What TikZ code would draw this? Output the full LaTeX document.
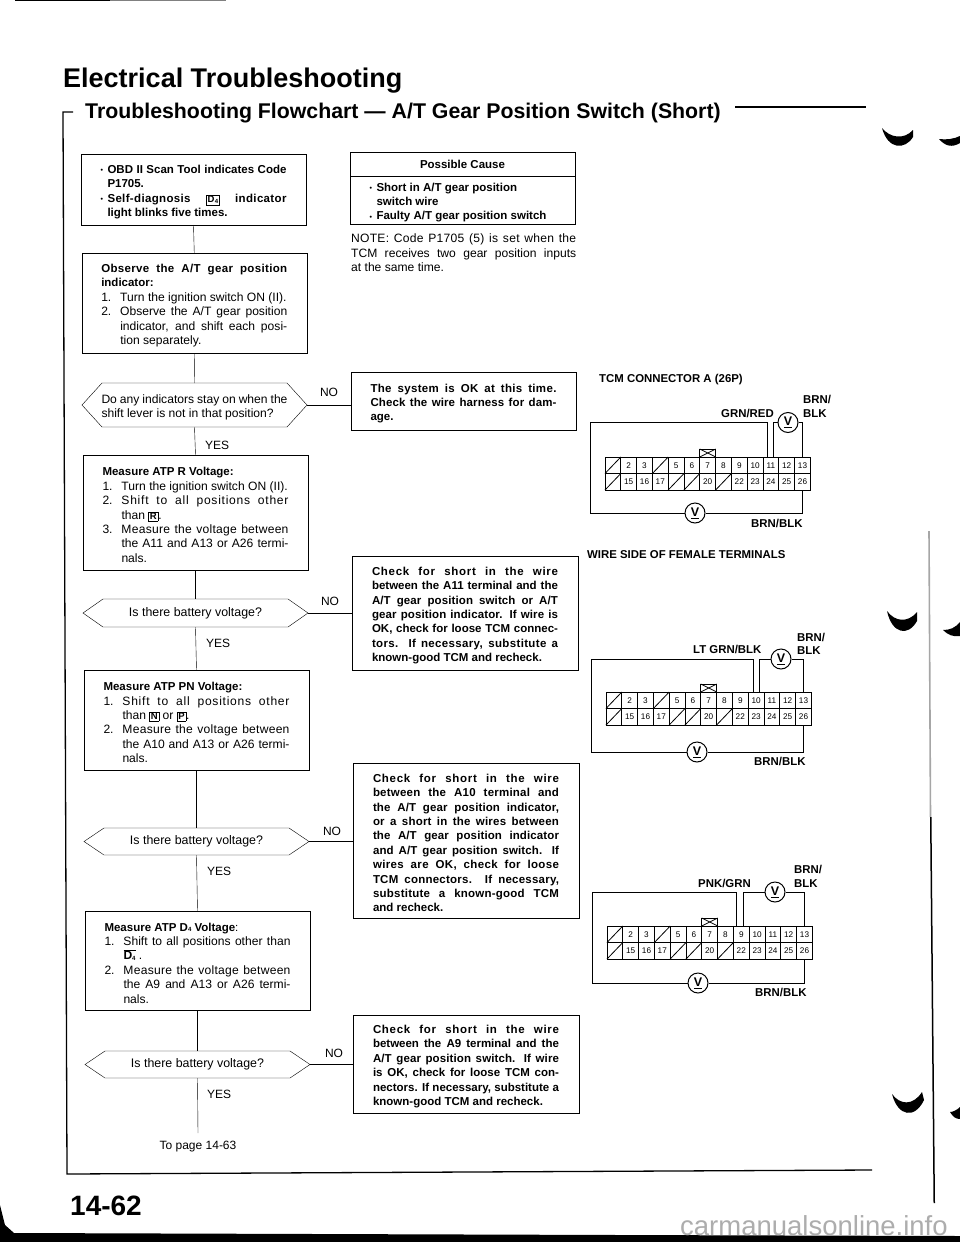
\documentclass[tikz,border=0pt]{standalone}
\usepackage{fontspec}
\setmainfont{Liberation Sans}
\newcommand\fz[1]{\fontsize{#1}{#1}\selectfont}
\newcommand\TB[2][186pt]{\vbox{\kern5pt\hsize=#1 \hrule height 0pt width\hsize \baselineskip=14.4pt \lineskiplimit=-30pt \parindent=0pt #2}}
\newcommand\js{\spaceskip=.28em plus 1fil minus .06em\relax}
\newcommand\JL[1]{\hbox to\hsize{\js #1}}
\newcommand\JS[2]{\hbox to\hsize{\addfontfeature{LetterSpace=#1}\js #2}}
\newcommand\NL[1]{\hbox{#1}}
\newcommand\JI[2]{\hbox to\hsize{\hbox to 19pt{#1\hss}\js #2}}
\newcommand\JIS[3]{\hbox to\hsize{\hbox to 19pt{#2\hss}\addfontfeature{LetterSpace=#1}\js #3}}
\newcommand\NI[2]{\hbox{\hbox to 19pt{#1\hss}#2}}
\newcommand\BU{\hbox to 7pt{\raisebox{.6pt}{\fz{7}•}\hss}}
\newcommand\BI{\hbox to 7pt{\hss}}
\setlength\fboxsep{1.1pt}
\setlength\fboxrule{.4pt}
\newcommand\KY[1]{\raisebox{-.5pt}{\fbox{\fz{9.5}\bfseries #1}}}
\newcommand\DF{\textbf{D}\raisebox{-.8pt}{\fz{6}\bfseries 4}}
\tikzset{
  x=1pt,y=-1pt,
  line width=1pt,
  flowbox/.style={draw,inner sep=0pt,outer sep=0pt,minimum width=225pt,font=\fz{12.1}},
  boldbox/.style={flowbox,font=\fz{11.5}\bfseries},
  hexbox/.style={inner sep=0pt,outer sep=0pt,minimum width=225pt,font=\fz{12.4},align=center},
  flowlabel/.style={inner sep=0pt,font=\fz{12}},
  wirelabel/.style={inner sep=0pt,font=\fz{11.4}\bfseries,anchor=base west},
  cellbox/.style={draw,line width=.8pt,inner sep=0pt,outer sep=0pt,minimum width=15.8pt,minimum height=16.5pt,font=\fz{8.2},text height=6pt,text depth=0pt},
  meter/.style={draw,circle,fill=white,line width=1pt,minimum size=20pt,inner sep=0pt,font=\fz{12.5}\bfseries},
  scanmark/.style={fill=black,draw=none}
}
% hexagon around a text node
\newcommand\HEX[1]{\draw (#1.west) -- ([xshift=20pt]#1.north west) -- ([xshift=-20pt]#1.north east) -- (#1.east) -- ([xshift=-20pt]#1.south east) -- ([xshift=20pt]#1.south west) -- cycle;}
% connector grid: id, left, top
\newcommand\TCM[3]{%
  \foreach \i/\t [count=\c] in {1/{},2/2,3/3,4/{},5/5,6/6,7/7,8/8,9/9,10/10,11/11,12/12,13/13}
    \node[cellbox] (#1\i) at ({#2+(\c-.5)*15.8},{#3+8.25}) {\t};
  \foreach \i/\t [count=\c] in {14/{},15/15,16/16,17/17,18/{},19/{},20/20,21/{},22/22,23/23,24/24,25/25,26/26}
    \node[cellbox] (#1\i) at ({#2+(\c-.5)*15.8},{#3+24.75}) {\t};
  \foreach \s in {1,4,14,18,19,21} \draw[line width=.8pt] (#1\s.south west) -- (#1\s.north east);
  \node[draw,line width=.8pt,inner sep=0pt,outer sep=0pt,minimum width=16pt,minimum height=8pt,anchor=south] (#1x) at (#17.north) {};
  \draw[line width=.8pt] (#1x.south west) -- (#1x.north east) (#1x.north west) -- (#1x.south east);
}
\begin{document}
\begin{tikzpicture}
\useasboundingbox (0,0) rectangle (960,1242);
\fill[white] (0,0) rectangle (960,1242);

% titles
\node[inner sep=0pt,anchor=base west,font=\fz{27}\bfseries] (title) at (63,87) {Electrical Troubleshooting};
\node[inner sep=0pt,anchor=base west,font=\fz{21.3}\bfseries] (subtitle) at (85,118) {Troubleshooting Flowchart — A/T Gear Position Switch (Short)};
\coordinate (rs) at (735,107); \coordinate (re) at (866,107);
\draw[line width=1.1pt] (rs) -- (re);

% frame
\coordinate (fa) at (73,112); \coordinate (fb) at (63,112); \coordinate (fc) at (67,1174); \coordinate (fd) at (872,1170);
\draw[line width=1.3pt] (fa) -- (fb) -- (fc) -- (fd);

% left column
\node[boldbox,minimum height=71pt] (b1) at (193.5,189.5) {\TB{%
  \JL{\BU OBD II Scan Tool indicates Code}
  \NL{\BI P1705.}
  \JS{3}{\BU Self-diagnosis \KY{\DF} indicator}
  \NL{\BI light blinks five times.}}};
\node[flowbox,minimum height=100pt] (b2) at (194.25,303) {\TB{%
  \JS{3}{\fz{11.5}\bfseries Observe the A/T gear position}
  \NL{\fz{11.5}\bfseries indicator:}
  \NI{1.}{Turn the ignition switch ON (II).}
  \JI{2.}{Observe the A/T gear position}
  \JI{}{indicator, and shift each posi-}
  \NI{}{tion separately.}}};
\node[hexbox,font=\fz{12.1},minimum height=44pt] (d1) at (194.5,405) {\TB{%
  \JL{Do any indicators stay on when the}
  \NL{shift lever is not in that position?}}};
\HEX{d1}
\node[flowbox,minimum height=115pt] (b3) at (195.5,512.5) {\TB{%
  \NL{\fz{11.5}\bfseries Measure ATP R Voltage:}
  \NI{1.}{Turn the ignition switch ON (II).}
  \JIS{6}{2.}{Shift to all positions other}
  \NI{}{than \KY{R}.}
  \JIS{2}{3.}{Measure the voltage between}
  \JI{}{the A11 and A13 or A26 termi-}
  \NI{}{nals.}}};
\node[hexbox,minimum height=28pt] (d2) at (195.5,613) {Is there battery voltage?};
\HEX{d2}
\node[flowbox,minimum height=100pt] (b4) at (196.5,720) {\TB{%
  \NL{\fz{11.5}\bfseries Measure ATP PN Voltage:}
  \JIS{6}{1.}{Shift to all positions other}
  \NI{}{than \KY{N} or \KY{P}.}
  \JIS{2}{2.}{Measure the voltage between}
  \JI{}{the A10 and A13 or A26 termi-}
  \NI{}{nals.}}};
\node[hexbox,minimum height=27pt] (d3) at (196.5,841.5) {Is there battery voltage?};
\HEX{d3}
\node[flowbox,minimum height=99pt] (b5) at (197.5,960.5) {\TB{%
  \NL{\fz{11.5}\textbf{Measure ATP \DF{} Voltage}:}
  \JI{1.}{Shift to all positions other than}
  \NI{}{\vbox{\hrule height .5pt\kern.8pt\hbox{\DF}} .}
  \JIS{2}{2.}{Measure the voltage between}
  \JI{}{the A9 and A13 or A26 termi-}
  \NI{}{nals.}}};
\node[hexbox,minimum height=27pt] (d4) at (197.5,1064.5) {Is there battery voltage?};
\HEX{d4}
\coordinate (end) at (198,1133);
\node[flowlabel] (topage) at (198,1147) {To page 14-63};
\node[inner sep=0pt,anchor=base west,font=\fz{28}\bfseries] (page) at (70,1215) {14-62};

\draw (b1.south) -- (b2.north);
\draw (b2.south) -- (d1.north);
\draw (d1.south) -- (b3.north);
\draw (b3.south) -- (d2.north);
\draw (d2.south) -- (b4.north);
\draw (b4.south) -- (d3.north);
\draw (d3.south) -- (b5.north);
\draw (b5.south) -- (d4.north);
\draw (d4.south) -- (end);

\node[flowlabel,anchor=base west] (y1) at (205,449) {YES};
\node[flowlabel,anchor=base west] (y2) at (206,647) {YES};
\node[flowlabel,anchor=base west] (y3) at (207,875) {YES};
\node[flowlabel,anchor=base west] (y4) at (207,1098) {YES};

% right column
\node[boldbox,minimum height=24pt] (pch) at (462.5,164) {\raisebox{-1pt}{Possible Cause}};
\node[boldbox,minimum height=48pt,anchor=north] (pcb) at (pch.south) {\TB{%
  \NL{\BU Short in A/T gear position}
  \NL{\BI switch wire}
  \NL{\BU Faulty A/T gear position switch}}};
\node[inner sep=0pt,anchor=north west,font=\fz{12.1}] (note) at (351,229) {\TB[225pt]{%
  \JS{2}{NOTE: Code P1705 (5) is set when the}
  \JL{TCM receives two gear position inputs}
  \NL{at the same time.}}};

\node[boldbox,minimum height=58pt] (c0) at (463.5,401) {\TB{%
  \JS{3}{The system is OK at this time.}
  \JS{1}{Check the wire harness for dam-}
  \NL{age.}}};
\node[boldbox,minimum width=226pt,minimum height=114pt] (c1) at (465,613) {\TB{%
  \JS{6}{Check for short in the wire}
  \JL{between the A11 terminal and the}
  \JS{1}{A/T gear position switch or A/T}
  \JS{1}{gear position indicator. If wire is}
  \JL{OK, check for loose TCM connec-}
  \JS{3}{tors. If necessary, substitute a}
  \NL{known-good TCM and recheck.}}};
\node[boldbox,minimum width=226pt,minimum height=155pt] (c2) at (466,840.5) {\TB{%
  \JS{6}{Check for short in the wire}
  \JS{2}{between the A10 terminal and}
  \JS{1}{the A/T gear position indicator,}
  \JS{2}{or a short in the wires between}
  \JS{1}{the A/T gear position indicator}
  \JS{1}{and A/T gear position switch. If}
  \JS{3}{wires are OK, check for loose}
  \JS{2}{TCM connectors. If necessary,}
  \JS{2}{substitute a known-good TCM}
  \NL{and recheck.}}};
\node[boldbox,minimum width=226pt,minimum height=98pt] (c3) at (466,1064) {\TB{%
  \JS{6}{Check for short in the wire}
  \JL{between the A9 terminal and the}
  \JS{1}{A/T gear position switch. If wire}
  \JL{is OK, check for loose TCM con-}
  \JL{nectors. If necessary, substitute a}
  \NL{known-good TCM and recheck.}}};

\draw (d1.east) -- (d1.east -| c0.west);
\draw (d2.east) -- (d2.east -| c1.west);
\draw (d3.east) -- (d3.east -| c2.west);
\draw (d4.east) -- (d4.east -| c3.west);
\node[flowlabel] (n1) at (329,392) {NO};
\node[flowlabel] (n2) at (330,601) {NO};
\node[flowlabel] (n3) at (332,831) {NO};
\node[flowlabel] (n4) at (334,1053) {NO};

% connector diagrams
\node[wirelabel] (ta) at (599,382) {TCM CONNECTOR A (26P)};
\TCM{a}{605}{457}
\node[meter] (a1) at (788,422.5) {\underline{V}};
\node[meter] (a2) at (695,513) {\underline{V}};
\coordinate (atl) at (590,422.5);
\draw ([xshift=-4pt]a11.north) |- (atl) |- (a2.west);
\draw (a2.east) -| (a26.south);
\draw ([xshift=2pt]a11.north) |- (a1.west);
\draw (a1.east) -| (a13.north);
\node[wirelabel] (al1) at (721,417) {GRN/RED};
\node[wirelabel] (al2) at (803,403) {BRN/};
\node[wirelabel] (al3) at (803,417) {BLK};
\node[wirelabel] (al4) at (751,527) {BRN/BLK};
\node[wirelabel] (tb) at (587,558) {WIRE SIDE OF FEMALE TERMINALS};

\TCM{b}{606}{692}
\node[meter] (b1m) at (781,659) {\underline{V}};
\node[meter] (b2m) at (697,752) {\underline{V}};
\coordinate (btl) at (591,659);
\draw ([xshift=-3pt]b10.north) |- (btl) |- (b2m.west);
\draw (b2m.east) -| (b26.south);
\draw ([xshift=3pt]b10.north) |- (b1m.west);
\draw (b1m.east) -| (b13.north);
\node[wirelabel] (bl1) at (693,653) {LT GRN/BLK};
\node[wirelabel] (bl2) at (797,641) {BRN/};
\node[wirelabel] (bl3) at (797,654) {BLK};
\node[wirelabel] (bl4) at (754,765) {BRN/BLK};

\TCM{c}{607}{926}
\node[meter] (c1m) at (775,892) {\underline{V}};
\node[meter] (c2m) at (698,983) {\underline{V}};
\coordinate (ctl) at (592,892);
\draw ([xshift=-5pt]c9.north) |- (ctl) |- (c2m.west);
\draw (c2m.east) -| (c26.south);
\draw ([xshift=2pt]c9.north) |- (c1m.west);
\draw (c1m.east) -| (c13.north);
\node[wirelabel] (cl1) at (698,887) {PNK/GRN};
\node[wirelabel] (cl2) at (794,873) {BRN/};
\node[wirelabel] (cl3) at (794,887) {BLK};
\node[wirelabel] (cl4) at (755,996) {BRN/BLK};

% scan marks at the right edge
\fill[scanmark] (882,128) .. controls (890,138) and (904,140) .. (913,130) -- (913,137) .. controls (905,150) and (888,150) .. cycle;
\fill[scanmark] (939,139) .. controls (946,140) and (954,139) .. (960,136) -- (960,143) .. controls (952,148) and (945,146) .. cycle;
\fill[scanmark] (887,611) .. controls (895,622) and (908,623) .. (917,612) -- (917,621) .. controls (908,637) and (892,634) .. cycle;
\fill[scanmark] (943,630) .. controls (950,630) and (955,628) .. (960,622) -- (960,636) .. controls (953,637) and (948,635) .. cycle;
\fill[scanmark] (892,1094) .. controls (900,1105) and (913,1106) .. (922,1092) -- (924,1100) .. controls (915,1119) and (898,1117) .. cycle;
\fill[scanmark] (950,1112) .. controls (953,1112) and (957,1110) .. (960,1107) -- (960,1119) .. controls (956,1119) and (953,1117) .. cycle;

% scan edge lines
\draw[line width=1.6pt,gray!70] (929,531) -- (930.5,817);
\fill[black] (930,817) -- (931.5,817) -- (935,1203) -- (933.5,1203) -- cycle;
\draw[line width=1.6pt] (15,.5) -- (110,.5);
\draw[line width=.7pt,gray] (110,.5) -- (226,.5);
\fill[black] (0,1242) -- (0,1205) -- (5,1225) -- (14,1233) -- (620,1235) -- (960,1236) -- (960,1242) -- cycle;

% watermark
\node[inner sep=0pt,anchor=base west,font=\fz{27.5},text=black!32] (wm) at (680,1235) {carmanualsonline.info};
\end{tikzpicture}
\end{document}
